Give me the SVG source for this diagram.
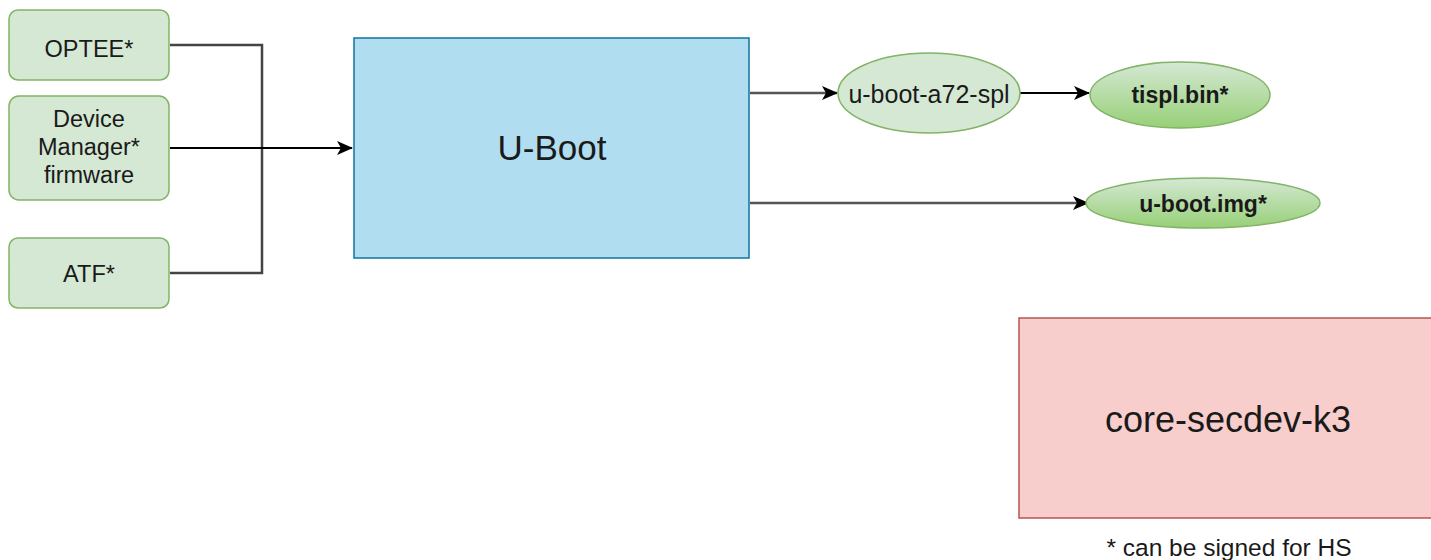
<svg xmlns="http://www.w3.org/2000/svg" width="1431" height="560" viewBox="0 0 1431 560">
<style>
.g{fill:#d5e8d4;stroke:#82b366;stroke-width:1.5}
.gd{fill:url(#gg);stroke:#82b366;stroke-width:1.5}
.t{font-family:"Liberation Sans",Arial,sans-serif;fill:#1a1a1a;text-anchor:middle}
.c{fill:none}
</style>
<defs>
<linearGradient id="gg" x1="0" y1="0" x2="0" y2="1">
<stop offset="0" stop-color="#d5e8d4"/>
<stop offset="1" stop-color="#97d077"/>
</linearGradient>
<marker id="a" viewBox="0 0 16 14" refX="15" refY="7" markerWidth="16" markerHeight="14" markerUnits="userSpaceOnUse" orient="auto">
<path d="M0,0 L16,7 L0,14 L4,7 Z" fill="#000"/>
</marker>
</defs>
<rect width="1431" height="560" fill="#fff"/>
<g id="connectors">
<path class="c" stroke="#444" stroke-width="2.5" d="M170,45 H262 V273 H170"/>
<path class="c" stroke="#000" stroke-width="2" d="M170,148 H352" marker-end="url(#a)"/>
<path class="c" stroke="#555" stroke-width="2.5" d="M750,93 H837" marker-end="url(#a)"/>
<path class="c" stroke="#000" stroke-width="2" d="M1020,93 H1089" marker-end="url(#a)"/>
<path class="c" stroke="#555" stroke-width="2.5" d="M750,203 H1088" marker-end="url(#a)"/>
</g>
<g id="optee"><rect class="g" x="9" y="10" width="160" height="70" rx="9"/><text class="t" x="89" y="57" font-size="23.5">OPTEE*</text></g>
<g id="dm"><rect class="g" x="9" y="96" width="160" height="104" rx="10"/><text class="t" font-size="23.5"><tspan x="89" y="127">Device</tspan><tspan x="89" y="155">Manager*</tspan><tspan x="89" y="183">firmware</tspan></text></g>
<g id="atf"><rect class="g" x="9" y="238" width="160" height="70" rx="9"/><text class="t" x="89" y="282" font-size="23.5">ATF*</text></g>
<g id="uboot"><rect x="354" y="38" width="395" height="220" fill="#b1ddf0" stroke="#10739e" stroke-width="1.5"/><text class="t" x="552" y="160" font-size="35">U-Boot</text></g>
<g id="spl"><ellipse class="g" cx="929" cy="93" rx="91" ry="40"/><text class="t" x="929" y="103" font-size="25">u-boot-a72-spl</text></g>
<g id="tispl"><ellipse class="gd" cx="1180" cy="95" rx="90" ry="33"/><text class="t" x="1180" y="103" font-size="23" font-weight="bold">tispl.bin*</text></g>
<g id="ubootimg"><ellipse class="gd" cx="1203" cy="203" rx="117" ry="25"/><text class="t" x="1203" y="212" font-size="23" font-weight="bold">u-boot.img*</text></g>
<g id="core"><rect x="1019" y="318" width="420" height="200" fill="#f8cecc" stroke="#b85450" stroke-width="1.5"/><text class="t" x="1228" y="432" font-size="36">core-secdev-k3</text></g>
<text class="t" x="1229" y="556" font-size="24.5">* can be signed for HS</text>
</svg>
